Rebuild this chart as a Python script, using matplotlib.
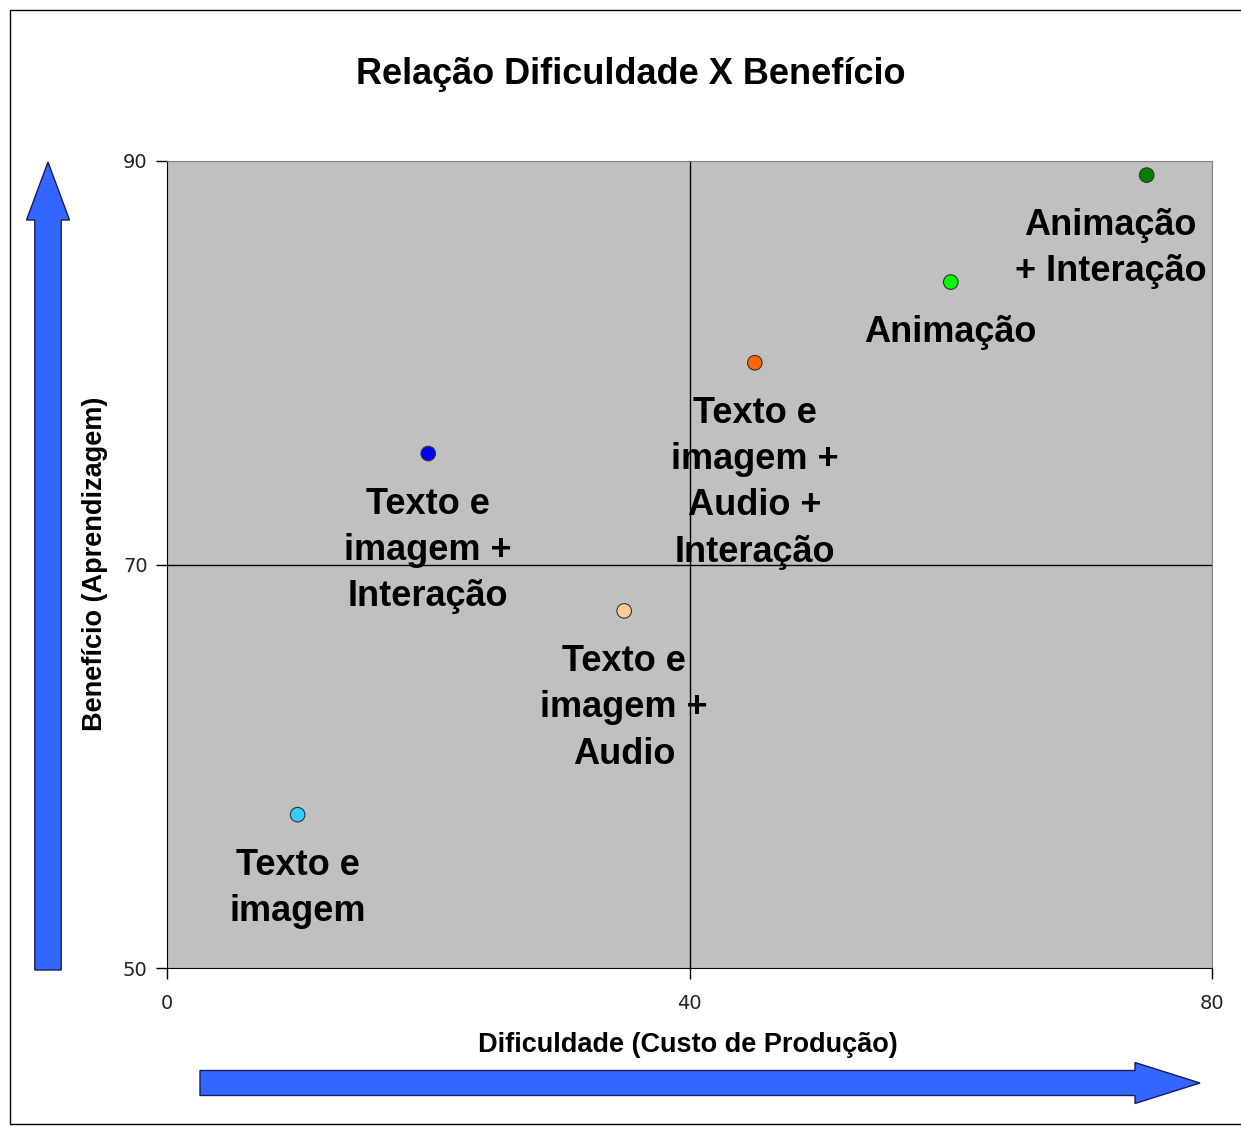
import matplotlib
matplotlib.use("Agg")
import matplotlib.pyplot as plt
from matplotlib.patches import FancyArrow, Rectangle

# ---- data ----
labels = ["Texto e\nimagem", "Texto e\nimagem +\nInteração", "Texto e\nimagem +\nAudio",
          "Texto e\nimagem +\nAudio +\nInteração", "Animação", "Animação\n+ Interação"]
dificuldade = [10, 20, 35, 45, 60, 75]
beneficio = [57.6, 75.5, 67.7, 80.0, 84.0, 89.3]
colors = ["#33CCFF", "#0000FF", "#FFCC99", "#FF6600", "#00FF00", "#008000"]
label_dx = [0, 0, 0, 0, 0, -36]   # pixel shift of label (last label kept inside plot)
xticks = [0, 40, 80]
yticks = [50, 70, 90]
title = "Relação Dificuldade X Benefício"
xlabel = "Dificuldade (Custo de Produção)"
ylabel = "Benefício (Aprendizagem)"

W, H = 1241, 1126
fig = plt.figure(figsize=(W / 100, H / 100), dpi=100)
fig.patch.set_facecolor("white")

# outer frame
fig.add_artist(Rectangle((10 / W, 2 / H), 1.2, (1126 - 12) / H, transform=fig.transFigure,
                         fill=False, edgecolor="black", linewidth=1))

ax = fig.add_axes([167 / W, 1 - 968 / H, (1212 - 167) / W, (968 - 161) / H])
ax.set_facecolor("#C0C0C0")
ax.set_xlim(0, 80)
ax.set_ylim(50, 90)
ax.set_xticks(xticks)
ax.set_yticks(yticks)
ax.tick_params(direction="out", length=8, width=1, labelsize=14, labelcolor="#222222", pad=6)
ax.tick_params(axis="x", pad=11)
for s in ["top", "right"]:
    ax.spines[s].set_color("#808080")
for s in ["left", "bottom"]:
    ax.spines[s].set_color("black")

ax.axvline(40, color="black", linewidth=1)
ax.axhline(70, color="black", linewidth=1)

ax.scatter(dificuldade, beneficio, s=110, c=colors, edgecolors="#333333", linewidths=0.8, zorder=3)

for x, y, lab, dx in zip(dificuldade, beneficio, labels, label_dx):
    ax.annotate(lab, (x, y), xytext=(dx, -33), textcoords="offset pixels",
                ha="center", va="top", fontsize=26, fontweight="bold",
                family="Liberation Sans", linespacing=1.42, color="black", zorder=4,
                annotation_clip=False)

fig.text(631 / W, 1 - 74 / H, title, ha="center", va="center", fontsize=26,
         fontweight="bold", family="Liberation Sans")
fig.text(688 / W, 1 - 1045 / H, xlabel, ha="center", va="center", fontsize=19.5,
         fontweight="bold", family="Liberation Sans")
fig.text(95 / W, 1 - 564 / H, ylabel, ha="center", va="center", fontsize=19.5,
         fontweight="bold", family="Liberation Sans", rotation=90)

# decorative arrows (figure pixel coordinates)
arrow_color = "#3366FF"
fig.add_artist(FancyArrow(48 / W, 1 - 970 / H, 0, (970 - 162) / H, width=24 / H,
                          head_width=43 / W, head_length=58 / H, length_includes_head=True,
                          transform=fig.transFigure, facecolor=arrow_color, edgecolor="#1a1a5a",
                          linewidth=1))
fig.add_artist(FancyArrow(200 / W, 1 - 1083 / H, (1200 - 200) / W, 0, width=25 / H,
                          head_width=41 / H, head_length=65 / W, length_includes_head=True,
                          transform=fig.transFigure, facecolor=arrow_color, edgecolor="#1a1a5a",
                          linewidth=1))

fig.savefig("out.png", dpi=100)
